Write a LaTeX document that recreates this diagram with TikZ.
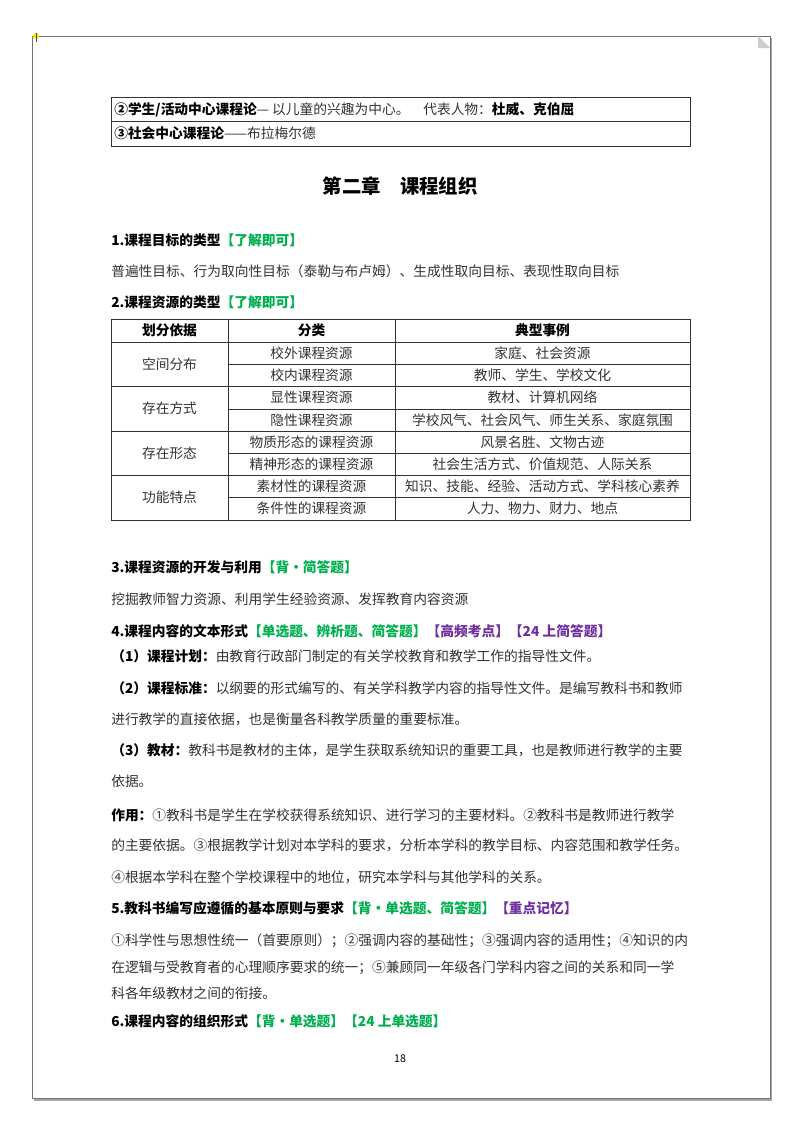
\documentclass[tikz,border=0pt]{standalone}
\usepackage{fontspec}
\setmainfont{Noto Sans CJK SC}
\definecolor{tg}{HTML}{00B050}
\definecolor{tp}{HTML}{7030A0}
\definecolor{tx}{HTML}{333333}
\begin{document}
\begin{tikzpicture}[x=0.75pt,y=-0.75pt,
  txt/.style={anchor=west,inner sep=0pt,text=tx,font=\fontsize{10.3}{12}\selectfont},
  hd/.style={anchor=west,inner sep=0pt,text=black,font=\fontsize{10.3}{12}\selectfont\bfseries},
  cell/.style={inner sep=0pt,text=tx,font=\fontsize{10.3}{12}\selectfont},
  grid/.style={draw=black!80,line width=0.6pt}]
\useasboundingbox (0,0) rectangle (800,1132);
% page
\fill[black!35] (34,38) rectangle (772,1101);
\draw[fill=white,draw=black!55,line width=0.6pt] (32,36) rectangle (770,1098);
\fill[black!20] (758,36) -- (770,48) -- (758,48) -- cycle;
\fill[yellow!80!orange] (36,36) circle (3);
\draw[black!70,line width=0.5pt] (36,33) -- (36,42);
% top table
\draw[grid] (111,97) rectangle (690,146);
\draw[grid] (111,121) -- (690,121);
\node[hd] (r1) at (114,110) {②学生/活动中心课程论\mdseries\color{tx}— 以儿童的兴趣为中心。\quad 代表人物：\bfseries\color{black}杜威、克伯屈};
\node[hd] (r2) at (114,133) {③社会中心课程论\mdseries\color{tx}——布拉梅尔德};
% title
\node[inner sep=0pt,font=\fontsize{14.5}{16}\selectfont\bfseries] (title) at (400,186) {第二章\quad 课程组织};
\node[hd] (h1) at (111,240) {1.课程目标的类型\color{tg}【了解即可】};
\node[txt] (b1) at (111,271) {普遍性目标、行为取向性目标（泰勒与布卢姆）、生成性取向目标、表现性取向目标};
\node[hd] (h2) at (111,302) {2.课程资源的类型\color{tg}【了解即可】};
% resource table
\draw[grid] (111,319) rectangle (690,520);
\foreach \y in {342,386,431,475} \draw[grid] (111,\y) -- (690,\y);
\foreach \y in {364,409,453,497} \draw[grid] (228,\y) -- (690,\y);
\draw[grid] (228,319) -- (228,520);
\draw[grid] (395,319) -- (395,520);
\node[cell,font=\fontsize{10.3}{12}\selectfont\bfseries,text=black] (c00) at (169.5,330.5) {划分依据};
\node[cell,font=\fontsize{10.3}{12}\selectfont\bfseries,text=black] (c01) at (311.5,330.5) {分类};
\node[cell,font=\fontsize{10.3}{12}\selectfont\bfseries,text=black] (c02) at (542.5,330.5) {典型事例};
\node[cell] (g1) at (169.5,364) {空间分布};
\node[cell] (g2) at (169.5,408.5) {存在方式};
\node[cell] (g3) at (169.5,453) {存在形态};
\node[cell] (g4) at (169.5,497.5) {功能特点};
\node[cell] (a1) at (311.5,353) {校外课程资源};
\node[cell] (a2) at (311.5,375) {校内课程资源};
\node[cell] (a3) at (311.5,397.5) {显性课程资源};
\node[cell] (a4) at (311.5,420) {隐性课程资源};
\node[cell] (a5) at (311.5,442) {物质形态的课程资源};
\node[cell] (a6) at (311.5,464) {精神形态的课程资源};
\node[cell] (a7) at (311.5,486) {素材性的课程资源};
\node[cell] (a8) at (311.5,508.5) {条件性的课程资源};
\node[cell] (e1) at (542.5,353) {家庭、社会资源};
\node[cell] (e2) at (542.5,375) {教师、学生、学校文化};
\node[cell] (e3) at (542.5,397.5) {教材、计算机网络};
\node[cell] (e4) at (542.5,420) {学校风气、社会风气、师生关系、家庭氛围};
\node[cell] (e5) at (542.5,442) {风景名胜、文物古迹};
\node[cell] (e6) at (542.5,464) {社会生活方式、价值规范、人际关系};
\node[cell] (e7) at (542.5,486) {知识、技能、经验、活动方式、学科核心素养};
\node[cell] (e8) at (542.5,508.5) {人力、物力、财力、地点};
% section 3
\node[hd] (h3) at (111,567) {3.课程资源的开发与利用\color{tg}【背·简答题】};
\node[txt] (b3) at (111,599) {挖掘教师智力资源、利用学生经验资源、发挥教育内容资源};
\node[hd] (h4) at (111,631) {4.课程内容的文本形式\color{tg}【单选题、辨析题、简答题】\color{tp}【高频考点】【24 上简答题】};
\node[txt] (p1) at (111,656) {\bfseries\color{black}（1）课程计划：\mdseries\color{tx}由教育行政部门制定的有关学校教育和教学工作的指导性文件。};
\node[txt] (p2) at (111,688) {\bfseries\color{black}（2）课程标准：\mdseries\color{tx}以纲要的形式编写的、有关学科教学内容的指导性文件。是编写教科书和教师};
\node[txt] (p2b) at (111,719) {进行教学的直接依据，也是衡量各科教学质量的重要标准。};
\node[txt] (p3) at (111,750) {\bfseries\color{black}（3）教材：\mdseries\color{tx}教科书是教材的主体，是学生获取系统知识的重要工具，也是教师进行教学的主要};
\node[txt] (p3b) at (111,781) {依据。};
\node[txt] (u1) at (111,815) {\bfseries\color{black}作用：\mdseries\color{tx}①教科书是学生在学校获得系统知识、进行学习的主要材料。②教科书是教师进行教学};
\node[txt] (u2) at (111,845) {的主要依据。③根据教学计划对本学科的要求，分析本学科的教学目标、内容范围和教学任务。};
\node[txt] (u3) at (111,877) {④根据本学科在整个学校课程中的地位，研究本学科与其他学科的关系。};
\node[hd] (h5) at (111,908) {5.教科书编写应遵循的基本原则与要求\color{tg}【背·单选题、简答题】\color{tp}【重点记忆】};
\node[txt] (q1) at (111,941) {①科学性与思想性统一（首要原则）；②强调内容的基础性；③强调内容的适用性；④知识的内};
\node[txt] (q2) at (111,968) {在逻辑与受教育者的心理顺序要求的统一；⑤兼顾同一年级各门学科内容之间的关系和同一学};
\node[txt] (q3) at (111,993) {科各年级教材之间的衔接。};
\node[hd] (h6) at (111,1021) {6.课程内容的组织形式\color{tg}【背·单选题】【24 上单选题】};
\node[inner sep=0pt,font=\fontsize{8}{10}\selectfont] (pg) at (400,1059) {18};
\end{tikzpicture}
\end{document}
